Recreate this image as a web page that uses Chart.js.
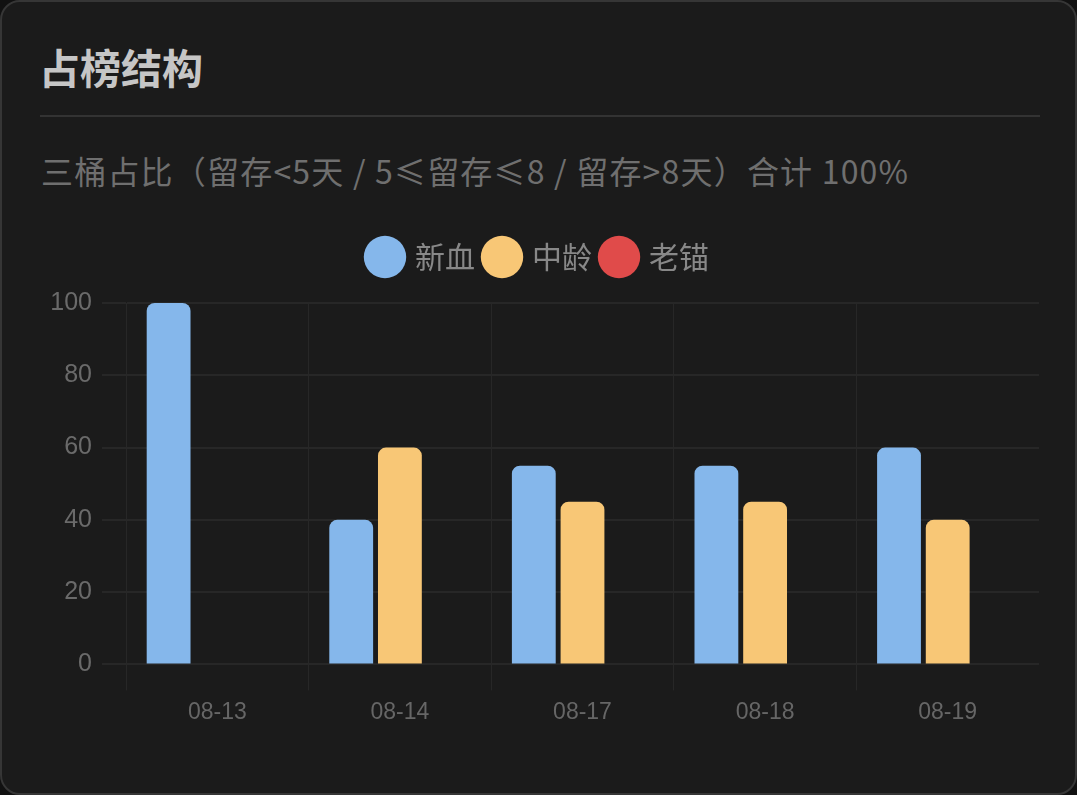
<!DOCTYPE html>
<html>
<head>
<meta charset="utf-8">
<script src="https://cdn.jsdelivr.net/npm/chart.js@4/dist/chart.umd.min.js"></script>
<style>
  html, body { margin: 0; padding: 0; background: #111; width: 1077px; height: 795px; overflow: hidden; }
  .card {
    position: absolute; left: 0; top: 0; width: 1077px; height: 795px;
    box-sizing: border-box; border: 2px solid #363636; border-radius: 20px;
    background: #1b1b1b;
  }
  .title {
    position: absolute; left: 37px; top: 34px; line-height: 46px;
    font: bold 41px "Noto Sans CJK SC", sans-serif; color: #c6c6c6;
  }
  .rule { position: absolute; left: 38px; top: 113px; width: 1000px; height: 2px; background: #333; }
  .sub {
    position: absolute; left: 39px; top: 145px; line-height: 40px; letter-spacing: 1.2px;
    font: 32px "Noto Sans CJK SC", sans-serif; color: #6f6f6f; white-space: nowrap;
  }
  .wrap { position: absolute; left: 38px; top: 228px; width: 999px; height: 504px; }
</style>
</head>
<body>
<div class="card">
  <div class="title">占榜结构</div>
  <div class="rule"></div>
  <div class="sub">三桶占比（留存&lt;5天 / 5≤留存≤8 / 留存&gt;8天）合计 100%</div>
  <div class="wrap"><canvas id="structChart"></canvas></div>
</div>
<script>
// categories and series
var days = ["08-13", "08-14", "08-17", "08-18", "08-19"];
var freshVals = [100, 40, 55, 55, 60];
var midVals = [0, 60, 45, 45, 40];
var oldVals = [0, 0, 0, 0, 0];
var yTicks = [0, 20, 40, 60, 80, 100];

var gridColor = "#272727";
var fontFam = "'Liberation Sans', Arial, 'Noto Sans CJK SC', sans-serif";

// a bit more room under the legend
var legendGap = {
  id: "legendGap",
  beforeInit: function (chart) {
    var fit = chart.legend.fit;
    chart.legend.fit = function () {
      fit.bind(chart.legend)();
      this.height += 21;
    };
  }
};

new Chart("structChart", {
  type: "bar",
  data: {
    labels: days,
    datasets: [
      { label: "新血", data: freshVals, backgroundColor: "#85b7eb", borderRadius: 8, borderSkipped: "start" },
      { label: "中龄", data: midVals, backgroundColor: "#f8c776", borderRadius: 8, borderSkipped: "start" },
      { label: "老锚", data: oldVals, backgroundColor: "#e04b4a", borderRadius: 8, borderSkipped: "start" }
    ]
  },
  plugins: [legendGap],
  options: {
    responsive: true,
    maintainAspectRatio: false,
    animation: false,
    plugins: {
      legend: {
        position: "top",
        labels: {
          usePointStyle: true,
          pointStyle: "circle",
          padding: 12,
          color: "#888",
          font: { size: 30, family: "'Noto Sans CJK SC', sans-serif" }
        }
      },
      tooltip: { enabled: false }
    },
    scales: {
      x: {
        grid: { color: gridColor, lineWidth: 1, tickLength: 26, offset: true },
        border: { color: gridColor, width: 2 },
        ticks: { color: "#666", padding: 8, font: { size: 23, family: fontFam } }
      },
      y: {
        min: 0,
        max: 100,
        afterFit: function (scale) { scale.width = 86; },
        afterBuildTicks: function (scale) {
          scale.ticks = yTicks.map(function (v) { return { value: v }; });
        },
        grid: { color: gridColor, lineWidth: 2, tickLength: 24 },
        border: { color: gridColor, width: 1 },
        ticks: { color: "#6a6a6a", padding: 10, font: { size: 25, family: fontFam } }
      }
    }
  }
});
</script>
</body>
</html>
